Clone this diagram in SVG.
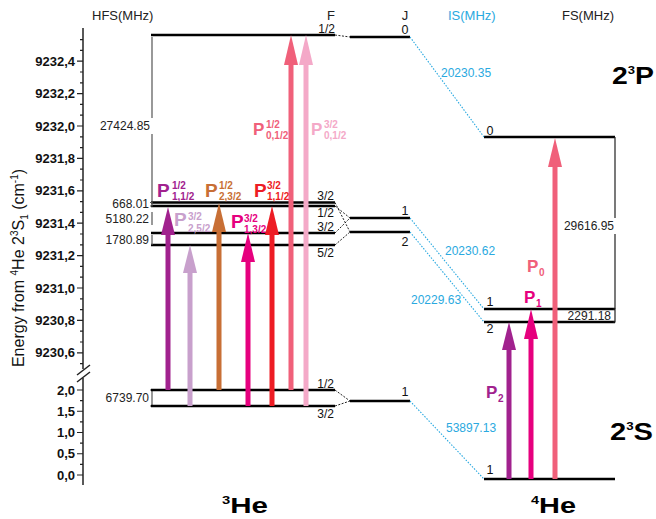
<svg xmlns="http://www.w3.org/2000/svg" width="656" height="519" viewBox="0 0 656 519">
<style>
text{font-family:"Liberation Sans",Arial,sans-serif;}
.hdr{font-size:13px;fill:#222;}
.tk{font-size:13px;font-weight:bold;fill:#111;text-anchor:end;}
.num{font-size:12px;fill:#222;text-anchor:end;}
.fl{font-size:12px;fill:#111;text-anchor:end;}
.jl{font-size:12.5px;fill:#111;text-anchor:middle;}
.is{font-size:12px;fill:#2aa9e0;}
.lvl{stroke:#000;stroke-width:2.5;fill:none;}
.br{stroke:#555;stroke-width:1.2;fill:none;}
.dash{stroke:#222;stroke-width:1;stroke-dasharray:2,1.5;fill:none;}
.blu{stroke:#2aa9e0;stroke-width:1.1;stroke-dasharray:1.5,1.5;fill:none;}
.ax{stroke:#222;stroke-width:1.5;fill:none;}
.pl{font-weight:bold;}
.big{font-weight:bold;fill:#000;}
</style>

<!-- headers -->
<g id="headers">
<text class="hdr" x="92" y="20">HFS(MHz)</text>
<text class="hdr" x="331" y="20" text-anchor="middle">F</text>
<text class="hdr" x="405" y="20" text-anchor="middle">J</text>
<text class="hdr" x="448" y="20" style="fill:#2aa9e0">IS(MHz)</text>
<text class="hdr" x="562" y="20">FS(MHz)</text>
</g>

<!-- axis -->
<g id="axis">
<line class="ax" x1="83" y1="28" x2="83" y2="369"/>
<line class="ax" x1="83" y1="378" x2="83" y2="485"/>
<line class="ax" x1="77" y1="375" x2="90" y2="365"/>
<line class="ax" x1="77" y1="382" x2="90" y2="372"/>
<g stroke="#222" stroke-width="1.2">
<path d="M77 61.2H83M77 93.6H83M77 126H83M77 158.4H83M77 190.8H83M77 223.2H83M77 255.6H83M77 288H83M77 320.4H83M77 352.8H83"/>
<path d="M80 39.6H83M80 50.4H83M80 72H83M80 82.8H83M80 104.4H83M80 115.2H83M80 136.8H83M80 147.6H83M80 169.2H83M80 180H83M80 201.6H83M80 212.4H83M80 234H83M80 244.8H83M80 266.4H83M80 277.2H83M80 298.8H83M80 309.6H83M80 331.2H83M80 342H83M80 363.6H83"/>
<path d="M77 390H83M77 411.25H83M77 432.5H83M77 453.75H83M77 475H83"/>
<path d="M80 400.6H83M80 421.9H83M80 443.1H83M80 464.4H83"/>
</g>
<text class="tk" x="75" y="65.7">9232,4</text>
<text class="tk" x="75" y="98.1">9232,2</text>
<text class="tk" x="75" y="130.5">9232,0</text>
<text class="tk" x="75" y="162.9">9231,8</text>
<text class="tk" x="75" y="195.3">9231,6</text>
<text class="tk" x="75" y="227.7">9231,4</text>
<text class="tk" x="75" y="260.1">9231,2</text>
<text class="tk" x="75" y="292.5">9231,0</text>
<text class="tk" x="75" y="324.9">9230,8</text>
<text class="tk" x="75" y="357.3">9230,6</text>
<text class="tk" x="75" y="394.5">2,0</text>
<text class="tk" x="75" y="415.7">1,5</text>
<text class="tk" x="75" y="437">1,0</text>
<text class="tk" x="75" y="458.2">0,5</text>
<text class="tk" x="75" y="479.5">0,0</text>
<text transform="translate(24,268) rotate(-90)" text-anchor="middle" style="font-size:16px;fill:#111">Energy from <tspan dy="-6" style="font-size:10px">4</tspan><tspan dy="6">He 2</tspan><tspan dy="-6" style="font-size:10px">3</tspan><tspan dy="6">S</tspan><tspan dy="4" style="font-size:10px">1</tspan><tspan dy="-4"> (cm</tspan><tspan dy="-6" style="font-size:10px">-1</tspan><tspan dy="6">)</tspan></text>
</g>

<!-- 3He 2^3P levels -->
<g id="he3-2P-F12top">
<line class="lvl" x1="151" y1="35" x2="335" y2="35"/>
<text class="fl" x="335" y="33">1/2</text>
</g>
<g id="he3-2P-F32a">
<line class="lvl" x1="151" y1="202.5" x2="335" y2="202.5"/>
<text class="fl" x="334" y="200">3/2</text>
</g>
<g id="he3-2P-F12b">
<line class="lvl" x1="151" y1="206" x2="335" y2="206"/>
<text class="fl" x="334" y="217">1/2</text>
</g>
<g id="he3-2P-F32b">
<line class="lvl" x1="151" y1="233" x2="335" y2="233"/>
<text class="fl" x="334" y="230.5">3/2</text>
</g>
<g id="he3-2P-F52">
<line class="lvl" x1="151" y1="245" x2="335" y2="245"/>
<text class="fl" x="334" y="257">5/2</text>
</g>
<g id="he3-hfs">
<path class="br" d="M152 37V118M152 134V201"/>
<text class="num" x="150" y="130">27424.85</text>
<path class="br" d="M150 202.5H152V206H150"/>
<text class="num" x="149" y="207.5">668.01</text>
<path class="br" d="M152 212V225"/>
<text class="num" x="149" y="222.5">5180.22</text>
<path class="br" d="M152 235V245"/>
<text class="num" x="149" y="244">1780.89</text>
<path class="br" d="M150 390H152V406H150"/>
<text class="num" x="149" y="402">6739.70</text>
</g>

<!-- 3He J levels -->
<g id="he3-J0">
<line class="lvl" x1="350" y1="37" x2="410" y2="37"/>
<text class="jl" x="405" y="34">0</text>
</g>
<g id="he3-J1">
<line class="lvl" x1="350" y1="218" x2="410" y2="218"/>
<text class="jl" x="405" y="215">1</text>
</g>
<g id="he3-J2">
<line class="lvl" x1="350" y1="232" x2="410" y2="232"/>
<text class="jl" x="405" y="246">2</text>
</g>

<!-- 3He 2^3S -->
<g id="he3-2S-F12">
<line class="lvl" x1="151" y1="390" x2="335" y2="390"/>
<text class="fl" x="334" y="388">1/2</text>
</g>
<g id="he3-2S-F32">
<line class="lvl" x1="151" y1="406" x2="335" y2="406"/>
<text class="fl" x="334" y="418">3/2</text>
</g>
<g id="he3-2S-J1">
<line class="lvl" x1="350" y1="401" x2="410" y2="401"/>
<text class="jl" x="405" y="396">1</text>
</g>

<!-- 4He levels -->
<g id="he4-2P-J0">
<line class="lvl" x1="484" y1="137" x2="615" y2="137"/>
<text class="jl" x="490" y="135">0</text>
</g>
<g id="he4-2P-J1">
<line class="lvl" x1="484" y1="309" x2="615" y2="309"/>
<text class="jl" x="490" y="306">1</text>
</g>
<g id="he4-2P-J2">
<line class="lvl" x1="484" y1="322" x2="615" y2="322"/>
<text class="jl" x="490" y="333">2</text>
</g>
<g id="he4-2S-J1">
<line class="lvl" x1="484" y1="479" x2="615" y2="479"/>
<text class="jl" x="490" y="474">1</text>
</g>
<g id="he4-fs">
<path class="br" d="M615 137V218M615 234V309" style="stroke:#222"/>
<text class="num" x="614" y="230">29616.95</text>
<path class="br" d="M613 309H615V322H613" style="stroke:#222"/>
<text class="num" x="611" y="320">2291.18</text>
</g>

<!-- big labels -->
<g id="labels">
<text class="big" x="612" y="84" style="font-size:24px" textLength="42" lengthAdjust="spacingAndGlyphs">2<tspan dy="-10" style="font-size:11px">3</tspan><tspan dy="10">P</tspan></text>
<text class="big" x="610" y="440" style="font-size:24px" textLength="43" lengthAdjust="spacingAndGlyphs">2<tspan dy="-10" style="font-size:11px">3</tspan><tspan dy="10">S</tspan></text>
<text class="big" x="222" y="513" style="font-size:22px" textLength="46" lengthAdjust="spacingAndGlyphs"><tspan dy="-9" style="font-size:11px">3</tspan><tspan dy="9">He</tspan></text>
<text class="big" x="531" y="513" style="font-size:22px" textLength="45" lengthAdjust="spacingAndGlyphs"><tspan dy="-9" style="font-size:11px">4</tspan><tspan dy="9">He</tspan></text>
</g>

<!-- connectors -->
<g id="connectors">
<path class="dash" d="M335 35L350 37"/>
<path class="dash" d="M335 202.5L350 232M335 206L350 218M335 233L350 218M335 245L350 232"/>
<path class="dash" d="M335 390L350 401M335 406L350 401"/>
<path class="blu" d="M410 37L484 137M410 218L484 309M410 232L484 322M410 401L484 479"/>
<text class="is" x="441" y="77">20230.35</text>
<text class="is" x="445" y="255">20230.62</text>
<text class="is" x="411" y="304">20229.63</text>
<text class="is" x="446" y="432">53897.13</text>

<!-- 3He transitions -->
<g fill="#a1228e"><rect x="165.5" y="234" width="5" height="156"/><polygon points="168,207 161,235 175,235"/></g>
<g fill="#c8a0cc"><rect x="187.5" y="272" width="5" height="134"/><polygon points="190,245 183,273 197,273"/></g>
<g fill="#c86f35"><rect x="216.5" y="231" width="5" height="159"/><polygon points="219,203 212,232 226,232"/></g>
<g fill="#e6007e"><rect x="245.5" y="261" width="5" height="145"/><polygon points="248,233 241,262 255,262"/></g>
<g fill="#ed1c24"><rect x="269.5" y="234" width="5" height="172"/><polygon points="272,206 265,235 279,235"/></g>
<g fill="#f0607a"><rect x="288.5" y="64" width="5" height="326"/><polygon points="291,35 284,65 298,65"/></g>
<g fill="#f4a9c8"><rect x="303.5" y="64" width="5" height="342"/><polygon points="306,35 299,65 313,65"/></g>

<!-- 4He transitions -->
<g fill="#a1228e"><rect x="506.5" y="349" width="5" height="130"/><polygon points="509,322 502,350 516,350"/></g>
<g fill="#e6007e"><rect x="528.5" y="338" width="5" height="141"/><polygon points="531,309 524,339 538,339"/></g>
<g fill="#f0607a"><rect x="552.5" y="166" width="5" height="313"/><polygon points="555,138 548,167 562,167"/></g>

<!-- transition labels -->
<text class="pl" fill="#a1228e" x="157" y="197" style="font-size:19px">P</text>
<text class="pl" fill="#a1228e" x="172" y="188.5" style="font-size:10px">1/2</text>
<text class="pl" fill="#a1228e" x="172" y="199.5" style="font-size:10px">1,1/2</text>

<text class="pl" fill="#c8a0cc" x="174" y="226" style="font-size:19px">P</text>
<text class="pl" fill="#c8a0cc" x="188" y="220" style="font-size:10px">3/2</text>
<text class="pl" fill="#c8a0cc" x="188" y="231.5" style="font-size:10px">2,5/2</text>

<text class="pl" fill="#c86f35" x="205" y="197" style="font-size:19px">P</text>
<text class="pl" fill="#c86f35" x="219" y="188.5" style="font-size:10px">1/2</text>
<text class="pl" fill="#c86f35" x="219" y="199.5" style="font-size:10px">2,3/2</text>

<text class="pl" fill="#e6007e" x="231" y="228" style="font-size:19px">P</text>
<text class="pl" fill="#e6007e" x="244" y="222" style="font-size:10px">3/2</text>
<text class="pl" fill="#e6007e" x="244" y="232.5" style="font-size:10px">1,3/2</text>

<text class="pl" fill="#ed1c24" x="254" y="197" style="font-size:19px">P</text>
<text class="pl" fill="#ed1c24" x="267" y="188.5" style="font-size:10px">3/2</text>
<text class="pl" fill="#ed1c24" x="267" y="199.5" style="font-size:10px">1,1/2</text>

<text class="pl" fill="#f0607a" x="253" y="135" style="font-size:17px">P</text>
<text class="pl" fill="#f0607a" x="266" y="128" style="font-size:10px">1/2</text>
<text class="pl" fill="#f0607a" x="266" y="139" style="font-size:10px">0,1/2</text>

<text class="pl" fill="#f4a9c8" x="311" y="135" style="font-size:17px">P</text>
<text class="pl" fill="#f4a9c8" x="324" y="128" style="font-size:10px">3/2</text>
<text class="pl" fill="#f4a9c8" x="324" y="139" style="font-size:10px">0,1/2</text>

<text class="pl" fill="#a1228e" x="486" y="398" style="font-size:17px">P</text>
<text class="pl" fill="#a1228e" x="498" y="402" style="font-size:10px">2</text>
<text class="pl" fill="#e6007e" x="524" y="303" style="font-size:17px">P</text>
<text class="pl" fill="#e6007e" x="536" y="307" style="font-size:10px">1</text>
<text class="pl" fill="#f0607a" x="527" y="272" style="font-size:17px">P</text>
<text class="pl" fill="#f0607a" x="539" y="276" style="font-size:10px">0</text>
</g>
</svg>
